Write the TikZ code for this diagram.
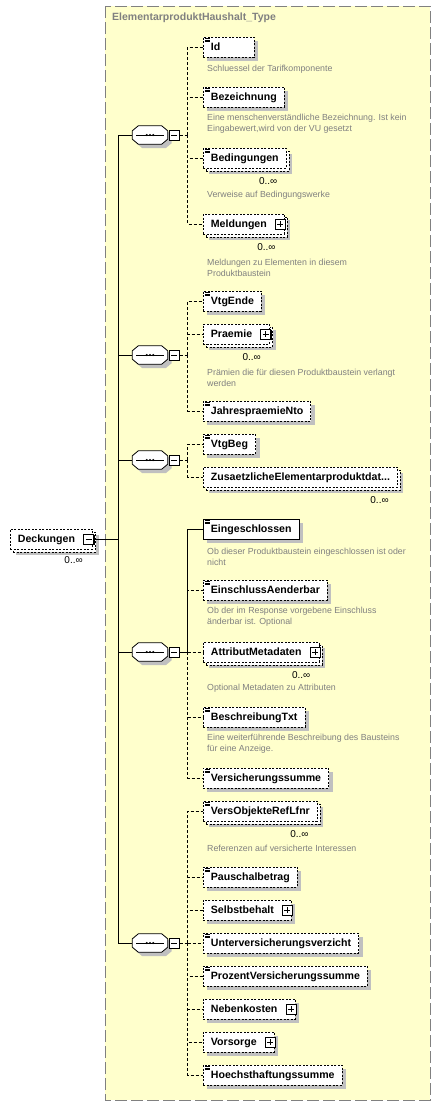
\documentclass[tikz,border=0pt]{standalone}
\usepackage{fontspec}
\setmainfont{Liberation Sans}
\usetikzlibrary{positioning,shadows}
\definecolor{cbg}{RGB}{255,255,204}
\definecolor{cframe}{RGB}{128,128,128}
\definecolor{ctxt}{RGB}{128,128,128}
\definecolor{cshade}{RGB}{192,192,192}

\begin{document}
\begin{tikzpicture}[x=1pt, y=-1pt,
  conn/.style={draw=black, line width=1pt},
  dconn/.style={conn, dash pattern=on 3pt off 2pt},
  elem/.style={draw=black, fill=white, line width=0.8pt, anchor=west, font=\fontsize{10.6}{12}\selectfont\bfseries, inner xsep=7.5pt, inner ysep=0pt, minimum height=20pt, text height=9.5pt, text depth=2pt},
  opt/.style={dash pattern=on 2pt off 1.5pt},
  one/.style={elem, general shadow={fill=cshade, shadow xshift=4pt, shadow yshift=-4pt}},
  many/.style={elem, general shadow={fill=cshade, shadow xshift=6pt, shadow yshift=-6pt}, copy shadow={draw=black, fill=white, line width=0.8pt, dash pattern=on 2pt off 1.5pt, shadow xshift=3pt, shadow yshift=-3pt}},
  simp/.style={path picture={\draw[solid, line width=0.4pt] ([xshift=1.5pt,yshift=-1.5pt]path picture bounding box.north west) -- ++(5pt,0pt) ([xshift=1.5pt,yshift=-3pt]path picture bounding box.north west) -- ++(5pt,0pt) ([xshift=1.5pt,yshift=-4.5pt]path picture bounding box.north west) -- ++(5pt,0pt);}},
  xbox/.style={draw=black, solid, fill=white, line width=0.8pt, minimum size=10pt, inner sep=0pt, anchor=east, general shadow={fill=black, shadow xshift=1pt, shadow yshift=-1pt}},
  pbox/.style={xbox, path picture={\draw[line width=0.8pt] ([xshift=2pt]path picture bounding box.west) -- ([xshift=-2pt]path picture bounding box.east) ([yshift=-2pt]path picture bounding box.north) -- ([yshift=2pt]path picture bounding box.south);}},
  mbox/.style={xbox, path picture={\draw[line width=0.8pt] ([xshift=2pt]path picture bounding box.west) -- ([xshift=-2pt]path picture bounding box.east);}},
  octo/.style={insert path={([xshift=6pt]#1.north west) -- ([xshift=-6pt]#1.north east) -- ([yshift=-5pt]#1.north east) -- ([yshift=5pt]#1.south east) -- ([xshift=-6pt]#1.south east) -- ([xshift=6pt]#1.south west) -- ([yshift=5pt]#1.south west) -- ([yshift=-5pt]#1.north west) -- cycle}},
  seqv/.style={rectangle, minimum width=35pt, minimum height=18pt, inner sep=0pt, append after command={\pgfextra{\let\sq\tikzlastnode
    \fill[cshade, transform canvas={xshift=4pt, yshift=-4pt}, octo=\sq];
    \draw[black, fill=white, line width=0.8pt, octo=\sq];
    \draw[line width=0.9pt] ([xshift=4pt]\sq.west) -- ([xshift=-4pt]\sq.east);
    \fill ([xshift=-3.2pt]\sq.center) circle (1.2pt) (\sq.center) circle (1.2pt) ([xshift=3.2pt]\sq.center) circle (1.2pt);}}},
  desc/.style={anchor=west, align=left, inner sep=0pt, text=ctxt, font=\fontsize{8.8}{11}\selectfont},
  occ/.style={anchor=east, inner sep=0pt, font=\fontsize{10}{12}\selectfont},
  ttl/.style={anchor=west, inner sep=0pt, text=ctxt, font=\fontsize{10.5}{12}\selectfont\bfseries}
]
\useasboundingbox (0,0) rectangle (441,1106);

% type frame
\draw[draw=cframe, fill=cbg, line width=1pt, dash pattern=on 12pt off 4pt] (105,6) rectangle (430,1100);
\node[ttl] (title) at (112,18) {ElementarproduktHaushalt\_Type};

% root element
\node[many, opt] (deck) at (10,539) {Deckungen\hspace*{10pt}};
\node[mbox] (deckM) at ([xshift=1pt]deck.east) {};
\node[occ] (deckO) at ([xshift=-10pt,yshift=-21pt]deck.east) {0..∞};

% sequences
\node[seqv] (s1) at (150,135) {};
\node[mbox, right=1pt of s1] (s1m) {};
\node[seqv] (s2) at (150,355) {};
\node[mbox, right=1pt of s2] (s2m) {};
\node[seqv] (s3) at (150,460) {};
\node[mbox, right=1pt of s3] (s3m) {};
\node[seqv] (s4) at (150,652) {};
\node[mbox, right=1pt of s4] (s4m) {};
\node[seqv] (s5) at (150,943) {};
\node[mbox, right=1pt of s5] (s5m) {};

% sequence 1
\node[one, opt, simp, text width=36pt, align=left] (id) at (203,47) {Id};
\node[desc] (idD) at (207,69) {Schluessel der Tarifkomponente};
\node[one, opt, simp] (bez) at (203,97) {Bezeichnung};
\node[desc] (bezD) at (207,123.5) {Eine menschenverständliche Bezeichnung. Ist kein\\Eingabewert,wird von der VU gesetzt};
\node[many, opt, simp] (bed) at (203,158) {Bedingungen};
\node[occ] (bedO) at ([xshift=-9pt,yshift=-23pt]bed.east) {0..∞};
\node[desc] (bedD) at (207,195) {Verweise auf Bedingungswerke};
\node[many, opt] (meld) at (203,224) {Meldungen\hspace*{10pt}};
\node[pbox] (meldP) at ([xshift=1pt]meld.east) {};
\node[occ] (meldO) at ([xshift=-9pt,yshift=-23pt]meld.east) {0..∞};
\node[desc] (meldD) at (207,267.5) {Meldungen zu Elementen in diesem\\Produktbaustein};

% sequence 2
\node[one, opt, simp] (vtge) at (203,301) {VtgEnde};
\node[many, opt] (prae) at (203,334) {Praemie\hspace*{10pt}};
\node[pbox] (praeP) at ([xshift=1pt]prae.east) {};
\node[occ] (praeO) at ([xshift=-9pt,yshift=-23pt]prae.east) {0..∞};
\node[desc] (praeD) at (207,377.5) {Prämien die für diesen Produktbaustein verlangt\\werden};
\node[one, opt, simp] (jahr) at (203,411) {JahrespraemieNto};

% sequence 3
\node[one, opt, simp] (vtgb) at (203,444) {VtgBeg};
\node[many, opt] (zus) at (203,477) {ZusaetzlicheElementarproduktdat...};
\node[occ] (zusO) at ([xshift=-9pt,yshift=-23pt]zus.east) {0..∞};

% sequence 4
\node[one, simp] (eing) at (203,529) {Eingeschlossen};
\node[desc] (eingD) at (207,556.5) {Ob dieser Produktbaustein eingeschlossen ist oder\\nicht};
\node[one, opt, simp] (einA) at (203,590) {EinschlussAenderbar};
\node[desc] (einAD) at (207,616.5) {Ob der im Response vorgebene Einschluss\\änderbar ist. Optional};
\node[many, opt] (attr) at (203,652) {AttributMetadaten\hspace*{10pt}};
\node[pbox] (attrP) at ([xshift=1pt]attr.east) {};
\node[occ] (attrO) at ([xshift=-9pt,yshift=-23pt]attr.east) {0..∞};
\node[desc] (attrD) at (207,688) {Optional Metadaten zu Attributen};
\node[one, opt, simp] (beschr) at (203,717) {BeschreibungTxt};
\node[desc] (beschrD) at (207,743.5) {Eine weiterführende Beschreibung des Bausteins\\für eine Anzeige.};
\node[one, opt, simp] (vsum) at (203,778) {Versicherungssumme};

% sequence 5
\node[many, opt, simp] (vobj) at (203,811) {VersObjekteRefLfnr};
\node[occ] (vobjO) at ([xshift=-9pt,yshift=-23pt]vobj.east) {0..∞};
\node[desc] (vobjD) at (207,848) {Referenzen auf versicherte Interessen};
\node[one, opt, simp] (paus) at (203,877) {Pauschalbetrag};
\node[one, opt] (selb) at (203,910) {Selbstbehalt\hspace*{10pt}};
\node[pbox] (selbP) at ([xshift=1pt]selb.east) {};
\node[one, opt, simp] (unter) at (203,943) {Unterversicherungsverzicht};
\node[one, opt, simp] (proz) at (203,976) {ProzentVersicherungssumme};
\node[one, opt] (neben) at (203,1009) {Nebenkosten\hspace*{10pt}};
\node[pbox] (nebenP) at ([xshift=1pt]neben.east) {};
\node[one, opt] (vors) at (203,1042) {Vorsorge\hspace*{10pt}};
\node[pbox] (vorsP) at ([xshift=1pt]vors.east) {};
\node[one, opt, simp] (hoech) at (203,1075) {Hoechsthaftungssumme};

% trunk
\coordinate (trunk) at (118,539);
\draw[conn] (deckM.east) -- (trunk);
\draw[conn] (trunk) |- (s1.west);
\draw[conn] (trunk) |- (s2.west);
\draw[conn] (trunk) |- (s3.west);
\draw[conn] (trunk) |- (s4.west);
\draw[conn] (trunk) |- (s5.west);

% branches
\coordinate (b1) at (187.5,135);
\draw[dconn] (s1m.east) -- (b1);
\draw[dconn] (b1) |- (id.west);
\draw[dconn] (b1) |- (bez.west);
\draw[dconn] (b1) |- (bed.west);
\draw[dconn] (b1) |- (meld.west);

\coordinate (b2) at (187.5,355);
\draw[dconn] (s2m.east) -- (b2);
\draw[dconn] (b2) |- (vtge.west);
\draw[dconn] (b2) |- (prae.west);
\draw[dconn] (b2) |- (jahr.west);

\coordinate (b3) at (187.5,460);
\draw[dconn] (s3m.east) -- (b3);
\draw[dconn] (b3) |- (vtgb.west);
\draw[dconn] (b3) |- (zus.west);

\coordinate (b4) at (187.5,652);
\draw[conn] (s4m.east) -- (b4);
\draw[conn] (b4) |- (eing.west);
\draw[dconn] (b4) |- (einA.west);
\draw[dconn] (b4) -- (attr.west);
\draw[dconn] (b4) |- (beschr.west);
\draw[dconn] (b4) |- (vsum.west);

\coordinate (b5) at (187.5,943);
\draw[dconn] (s5m.east) -- (b5);
\draw[dconn] (b5) |- (vobj.west);
\draw[dconn] (b5) |- (paus.west);
\draw[dconn] (b5) |- (selb.west);
\draw[dconn] (b5) -- (unter.west);
\draw[dconn] (b5) |- (proz.west);
\draw[dconn] (b5) |- (neben.west);
\draw[dconn] (b5) |- (vors.west);
\draw[dconn] (b5) |- (hoech.west);

\end{tikzpicture}
\end{document}
